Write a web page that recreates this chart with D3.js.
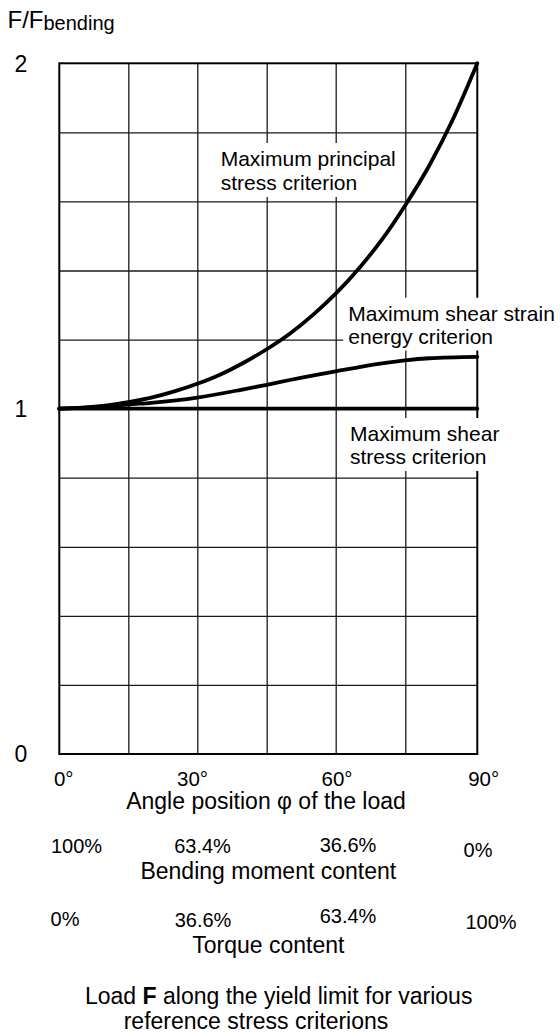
<!DOCTYPE html>
<html><head><meta charset="utf-8">
<script src="https://cdn.jsdelivr.net/npm/d3@7"></script>
<style>
body{margin:0;background:#fff}
svg text{font-family:"Liberation Sans",Arial,Helvetica,sans-serif;fill:#000}
</style>
</head><body>
<svg id="chart" width="560" height="1034"></svg>
<script>
// ---------- data ----------
const angleGrid = [0, 15, 30, 45, 60, 75, 90];
const ratioGrid = [0, 0.2, 0.4, 0.6, 0.8, 1.0, 1.2, 1.4, 1.6, 1.8, 2.0];
const ratioLabels = [0, 1, 2];
const angleLabelValues = [0, 30, 60, 90];
const angleLabels = ["0°", "30°", "60°", "90°"];
const bendingLabels = ["100%", "63.4%", "36.6%", "0%"];
const torqueLabels = ["0%", "36.6%", "63.4%", "100%"];

const principalAngles = [0, 5, 10, 15, 20, 25, 30, 35, 40, 45, 50, 55, 60, 65, 70, 75, 80, 85, 90];
const principalValues = [1.000, 1.003, 1.009, 1.019, 1.032, 1.050, 1.072, 1.099, 1.133, 1.172, 1.217, 1.271, 1.333, 1.406, 1.490, 1.589, 1.704, 1.840, 2.000];

const strainAngles = [0, 10, 15, 20, 30, 40, 45, 50, 60, 70, 75, 80, 90];
const strainValues = [1.000, 1.006, 1.012, 1.017, 1.032, 1.056, 1.069, 1.083, 1.108, 1.131, 1.140, 1.146, 1.150];

const shearAngles = [0, 90];
const shearValues = [1.000, 1.000];

const curveLabels = [
  ["Maximum principal", "stress criterion"],
  ["Maximum shear strain", "energy criterion"],
  ["Maximum shear", "stress criterion"]
];

// ---------- layout ----------
const svg = d3.select("#chart");
const x = d3.scaleLinear().domain(angleGrid).range([59.3, 128.3, 197.3, 266.7, 335.7, 405.3, 477.3]);
const y = d3.scaleLinear().domain([0, 2]).range([754, 63.3]);
const X0 = x(0), X1 = x(90), Y0 = y(0), Y1 = y(2);

// grid via axes
svg.append("g")
  .attr("transform", `translate(0,${Y0})`)
  .call(d3.axisBottom(x).tickValues(angleGrid.slice(1, -1)).tickSize(-(Y0 - Y1)).tickFormat(""))
  .call(g => g.select(".domain").remove())
  .call(g => g.selectAll("line").attr("stroke", "#1a1a1a").attr("stroke-width", 1.3));
svg.append("g")
  .attr("transform", `translate(${X0},0)`)
  .call(d3.axisLeft(y).tickValues(ratioGrid.slice(1, -1)).tickSize(-(X1 - X0)).tickFormat(""))
  .call(g => g.select(".domain").remove())
  .call(g => g.selectAll("line").attr("stroke", "#1a1a1a").attr("stroke-width", 1.3));
svg.append("rect")
  .attr("x", X0).attr("y", Y1).attr("width", X1 - X0).attr("height", Y0 - Y1)
  .attr("fill", "none").attr("stroke", "#000").attr("stroke-width", 2);

// curve label boxes + texts
const labelPos = [
  {x: 220.7, y: 166, dy: 24},
  {x: 348.3, y: 320.7, dy: 22.8},
  {x: 350, y: 441, dy: 23}
];
const labelGroups = curveLabels.map((lines, i) => {
  const g = svg.append("g");
  const t = g.append("text").attr("font-size", 21);
  lines.forEach((ln, j) => {
    t.append("tspan").attr("x", labelPos[i].x).attr("y", labelPos[i].y + j * labelPos[i].dy).text(ln);
  });
  const bb = t.node().getBBox();
  g.insert("rect", "text")
    .attr("x", bb.x - 5).attr("y", bb.y - 4)
    .attr("width", bb.width + 10).attr("height", bb.height + 7)
    .attr("fill", "#fff");
  return g;
});

// curves
const line = d3.line().x(d => x(d[0])).y(d => y(d[1])).curve(d3.curveMonotoneX);
const curves = [
  d3.zip(principalAngles, principalValues),
  d3.zip(strainAngles, strainValues),
  d3.zip(shearAngles, shearValues)
];
curves.forEach(c => {
  svg.append("path").attr("d", line(c))
    .attr("fill", "none").attr("stroke", "#000")
    .attr("stroke-width", 3.8).attr("stroke-linecap", "round").attr("stroke-linejoin", "round");
});

// y labels
svg.selectAll("text.ylab").data(ratioLabels).join("text")
  .attr("class", "ylab")
  .attr("x", 21).attr("y", d => y(d) + 8.3)
  .attr("text-anchor", "middle").attr("font-size", 23)
  .text(d => d);

// title
const title = svg.append("text").attr("x", 7.5).attr("y", 28.3).attr("font-size", 24);
title.append("tspan").text("F/F");
title.append("tspan").attr("font-size", 20).attr("dy", 1.5).text("bending");

// angle labels
const angDx = [4.4, -4.8, 1.3, 6.4];
svg.selectAll("text.ang").data(angleLabelValues).join("text")
  .attr("class", "ang")
  .attr("x", (d, i) => x(d) + angDx[i]).attr("y", 786)
  .attr("text-anchor", "middle").attr("font-size", 20.5)
  .text((d, i) => angleLabels[i]);
svg.append("text").attr("x", 266).attr("y", 809.3).attr("text-anchor", "middle")
  .attr("font-size", 23).text("Angle position φ of the load");

// bending row
const bDx = [17.2, 5.2, 12.3, 0.7];
const bY = [853.3, 853.3, 852, 856.7];
svg.selectAll("text.bend").data(angleLabelValues).join("text")
  .attr("class", "bend")
  .attr("x", (d, i) => x(d) + bDx[i]).attr("y", (d, i) => bY[i])
  .attr("text-anchor", "middle").attr("font-size", 20)
  .text((d, i) => bendingLabels[i]);
svg.append("text").attr("x", 268.3).attr("y", 879.3).attr("text-anchor", "middle")
  .attr("font-size", 23).text("Bending moment content");

// torque row
const tDx = [5.7, 5.7, 12.3, 13.7];
const tY = [926, 926.7, 923.3, 929.3];
svg.selectAll("text.torq").data(angleLabelValues).join("text")
  .attr("class", "torq")
  .attr("x", (d, i) => x(d) + tDx[i]).attr("y", (d, i) => tY[i])
  .attr("text-anchor", "middle").attr("font-size", 20)
  .text((d, i) => torqueLabels[i]);
svg.append("text").attr("x", 268.3).attr("y", 953.3).attr("text-anchor", "middle")
  .attr("font-size", 23).text("Torque content");

// caption
const cap = svg.append("text").attr("x", 278.7).attr("y", 1004).attr("text-anchor", "middle").attr("font-size", 23);
cap.append("tspan").text("Load ");
cap.append("tspan").attr("font-weight", "bold").text("F");
cap.append("tspan").text(" along the yield limit for various");
svg.append("text").attr("x", 256).attr("y", 1028.5).attr("text-anchor", "middle")
  .attr("font-size", 23).text("reference stress criterions");
</script>
</body></html>
